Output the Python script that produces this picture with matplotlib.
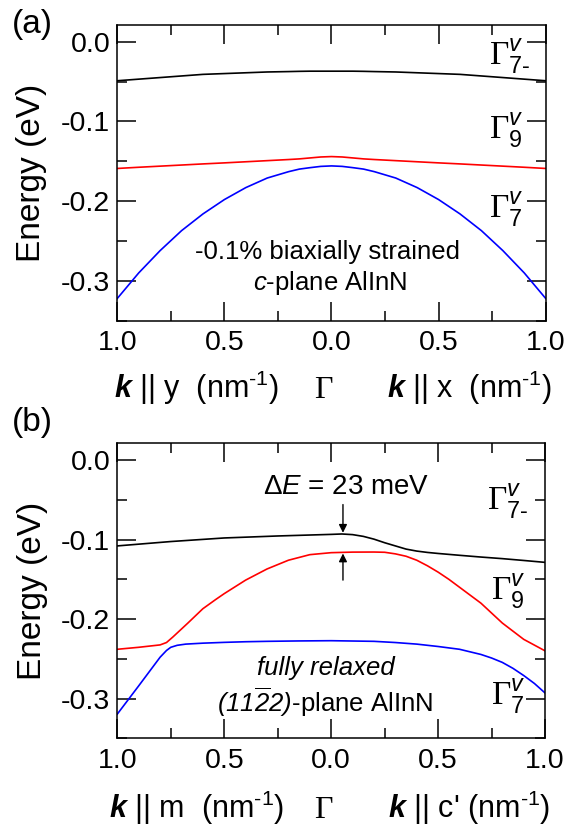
import numpy as np
import matplotlib
matplotlib.use("Agg")
import matplotlib.pyplot as plt
from matplotlib.ticker import MultipleLocator
import matplotlib.transforms as mtransforms

plt.rcParams["font.family"] = ["Liberation Sans", "DejaVu Sans"]
plt.rcParams["mathtext.fontset"] = "custom"
plt.rcParams["mathtext.rm"] = "Liberation Serif"
plt.rcParams["mathtext.it"] = "Liberation Sans:italic"
plt.rcParams["mathtext.bf"] = "Liberation Sans:bold"
plt.rcParams["mathtext.bfit"] = "Liberation Sans:italic:bold"
plt.rcParams["mathtext.tt"] = "Liberation Sans"
plt.rcParams["mathtext.sf"] = "Liberation Sans:italic"

# data (k in nm^-1, E in eV)

# (a) c-plane, biaxially strained
ka = [-1.0, -0.9, -0.8, -0.7, -0.6, -0.5, -0.4, -0.3, -0.2, -0.15, -0.1, -0.05, 0.0,
      0.05, 0.1, 0.15, 0.2, 0.3, 0.4, 0.5, 0.6, 0.7, 0.8, 0.9, 1.0]
a_black = [-0.049, -0.047, -0.045, -0.043, -0.041, -0.040, -0.039, -0.038, -0.0375, -0.0372, -0.037, -0.037, -0.037,
           -0.037, -0.037, -0.0372, -0.0375, -0.038, -0.039, -0.040, -0.041, -0.043, -0.045, -0.047, -0.049]
a_red = [-0.1590, -0.1575, -0.1561, -0.1547, -0.1533, -0.1520, -0.1506, -0.1492, -0.1478, -0.1470, -0.1458, -0.1446, -0.1441,
         -0.1446, -0.1458, -0.1470, -0.1478, -0.1492, -0.1506, -0.1520, -0.1533, -0.1547, -0.1561, -0.1575, -0.1590]
a_blue = [-0.322, -0.290, -0.262, -0.237, -0.216, -0.198, -0.183, -0.171, -0.163, -0.1598, -0.158, -0.1564, -0.1558,
          -0.1564, -0.158, -0.1598, -0.163, -0.171, -0.183, -0.198, -0.216, -0.237, -0.262, -0.290, -0.322]

# (b) (11-22)-plane, fully relaxed
kb_black = [-1.0, -0.75, -0.5, -0.25, 0.0, 0.05, 0.1, 0.15, 0.2, 0.25, 0.3, 0.35,
            0.4, 0.45, 0.5, 0.6, 0.7, 0.8, 0.9, 1.0]
b_black = [-0.108, -0.1025, -0.098, -0.0955, -0.0935, -0.093, -0.0938, -0.096, -0.0995, -0.104, -0.108, -0.112,
           -0.1145, -0.1162, -0.1175, -0.1198, -0.122, -0.124, -0.1263, -0.1287]
kb_red = [-1.0, -0.9, -0.8, -0.77, -0.74, -0.7, -0.67, -0.6, -0.54, -0.5, -0.4, -0.3, -0.2, -0.1, 0.0,
          0.1, 0.2, 0.25, 0.3, 0.35, 0.4, 0.45, 0.5, 0.55, 0.6, 0.7, 0.8, 0.9, 1.0]
b_red = [-0.238, -0.2355, -0.2325, -0.2295, -0.2225, -0.2125, -0.205, -0.187, -0.1754, -0.168, -0.151, -0.137,
         -0.126, -0.119, -0.1165, -0.1158, -0.1157, -0.116, -0.118, -0.121, -0.126, -0.133, -0.141, -0.150,
         -0.160, -0.180, -0.205, -0.2255, -0.240]
kb_blue = [-1.0, -0.9, -0.8, -0.77, -0.75, -0.72, -0.68, -0.6, -0.5, -0.4, -0.3, -0.15, 0.0,
           0.2, 0.3, 0.4, 0.5, 0.6, 0.7, 0.75, 0.8, 0.85, 0.9, 0.95, 1.0]
b_blue = [-0.3195, -0.284, -0.248, -0.2395, -0.2355, -0.233, -0.2315, -0.2303, -0.2293, -0.2285, -0.228, -0.2275,
          -0.2272, -0.228, -0.2295, -0.2315, -0.2345, -0.238, -0.2445, -0.249, -0.2545, -0.262, -0.271, -0.281, -0.293]

xtick_pos = [-1.0, -0.5, 0.0, 0.5, 1.0]
xtick_lab = ["1.0", "0.5", "0.0", "0.5", "1.0"]
ytick_pos = [0.0, -0.1, -0.2, -0.3]
ytick_lab = ["0.0", "-0.1", "-0.2", "-0.3"]

HY = "\u2010"  # short hyphen used in sub/superscripts

fig = plt.figure(figsize=(5.75, 8.31), dpi=100)
axa = fig.add_axes([0.204, 0.614, 0.745, 0.356])
axb = fig.add_axes([0.204, 0.1115, 0.744, 0.355])


def style(ax):
    ax.set_xlim(-1, 1)
    ax.set_ylim(-0.35, 0.021)
    ax.set_xticks(xtick_pos)
    ax.set_xticklabels(xtick_lab)
    ax.set_yticks(ytick_pos)
    ax.set_yticklabels(ytick_lab)
    ax.xaxis.set_minor_locator(MultipleLocator(0.25))
    ax.yaxis.set_minor_locator(MultipleLocator(0.05))
    ax.tick_params(which="both", direction="in", top=True, right=True, width=1.1, labelsize=20.5)
    ax.tick_params(which="major", length=13.5)
    ax.tick_params(which="minor", length=7)
    ax.tick_params(axis="x", pad=7)
    ax.tick_params(axis="y", pad=5)
    for s in ax.spines.values():
        s.set_linewidth(1.1)
    ax.set_ylabel("Energy (eV)", fontsize=24)
    ax.yaxis.set_label_coords(-0.163, 0.5)


def gam(ax, x, y, sub):
    ax.text(x, y, r"$\Gamma^{v}_{\mathtt{" + sub + "}}$", fontsize=24, ha="left", va="baseline")


lw = 1.2
axa.plot(ka, a_black, color="black", lw=lw)
axa.plot(ka, a_red, color="#ff0000", lw=lw)
axa.plot(ka, a_blue, color="#0000ff", lw=lw)
style(axa)
gam(axa, 0.735, -0.029, "7" + HY)
gam(axa, 0.735, -0.121, "9")
gam(axa, 0.735, -0.220, "7")
axa.text(-0.02, -0.2635, "-0.1% biaxially strained", fontsize=18.5, ha="center", va="center")
axa.text(-0.006, -0.303, r"$c$-plane AlInN", fontsize=18.5, ha="center", va="center")

axb.plot(kb_black, b_black, color="black", lw=lw)
axb.plot(kb_red, b_red, color="#ff0000", lw=lw)
axb.plot(kb_blue, b_blue, color="#0000ff", lw=lw)
style(axb)
gam(axb, 0.728, -0.0627, "7" + HY)
gam(axb, 0.745, -0.1754, "9")
gam(axb, 0.745, -0.307, "7")
axb.text(-0.025, -0.261, "fully relaxed", fontsize=18.5, style="italic", ha="center", va="center")
axb.text(-0.03, -0.305, r"$\mathsf{(11\overline{2}2)}$-plane AlInN", fontsize=18.5, ha="center", va="center")
axb.text(0.07, -0.0334, r"Δ$E$ = 23 meV", fontsize=20, ha="center", va="center")
arr = dict(arrowstyle="-|>", color="black", lw=1.0, mutation_scale=12, shrinkA=0, shrinkB=0)
axb.annotate("", xy=(0.055, -0.0915), xytext=(0.055, -0.056), arrowprops=arr)
axb.annotate("", xy=(0.055, -0.1175), xytext=(0.055, -0.151), arrowprops=arr)

# x labels made of pieces: left branch, Gamma, right branch
sup = r"(nm$^{\mathtt{" + HY + "1}}$)"
for ax, left, right, yb in [(axa, r"$\mathbfit{k}$ || y  " + sup, r"$\mathbfit{k}$ || x  " + sup, -0.261),
                            (axb, r"$\mathbfit{k}$ || m  " + sup, r"$\mathbfit{k}$ || c' " + sup, -0.270)]:
    tr = mtransforms.blended_transform_factory(ax.transData, ax.transAxes)
    ax.text(-0.63, yb, left, transform=tr, fontsize=22, ha="center", va="baseline")
    ax.text(-0.035, yb, r"$\Gamma$", transform=tr, fontsize=23, ha="center", va="baseline")
    ax.text(0.645, yb, right, transform=tr, fontsize=22, ha="center", va="baseline")

fig.text(0.02, 1 - 24 / 831, "(a)", fontsize=24, ha="left", va="center")
fig.text(0.02, 1 - 423 / 831, "(b)", fontsize=24, ha="left", va="center")

plt.savefig("out.png", dpi=100)
